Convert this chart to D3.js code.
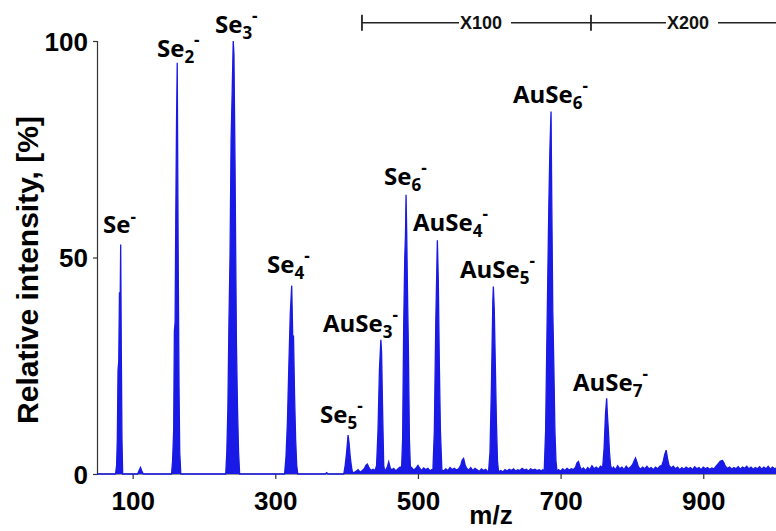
<!DOCTYPE html>
<html>
<head>
<meta charset="utf-8">
<script src="https://cdn.jsdelivr.net/npm/d3@7"></script>
<style>
  html, body { margin: 0; padding: 0; background: #fff; }
  svg { display: block; }
</style>
</head>
<body>
<svg id="chart" width="776" height="531"></svg>
<script>
// ---- Data ----
const specMz = [50,75,
  76,77.5,78.5,79.5,80.5,81.5,82.5,83.2,84,85,86,
  100,107,109,111,113,115,
  154.5,156,157.5,158.5,159.5,160.5,161.5,162.5,163.2,164,165,166,167.5,
  230.5,232,233.5,235,236.5,238,239.5,241,242,243.5,244.5,245.5,247,248.5,250,
  313,315,317,319,321,323,324.5,325.5,327,328.5,330,331.5,
  370,372,374,
  396,398,400,402,403.5,405,406.5,408,
  410,413,416,419,422,425,427,429,431,434,437,
  440,442,444,446,448,449,450.5,452,453.5,
  455,457,459,461,463,466,469,472,475,
  477,478.5,480,481.5,482.5,483.3,484.2,485.5,486.5,488,489.5,
  491,494,497,500,502,505,508,511,514,517,519,
  521,523,525,527.2,528.5,530,531.5,533.5,
  536,539,542,545,548,551,554,557,560,562,564,566,568,571,574,577,580,583,586,589,592,595,597,
  599,601,603,605,605.7,607,608.5,610,611.5,613,
  616,619,622,625,628,631,634,637,640,643,646,649,652,655,658,661,664,667,670,673,675,
  677,679,680.5,682,683.5,685,686.6,687.5,689,690.5,692,693.5,695,
  697,700,703,706,709,712,715,718,721,723,725,727,729,732,735,738,741,744,747,750,753,756,
  759,761,763,764.6,765.5,767,768.5,770,772,
  774,777,780,783,786,789,792,795,798,801,803,805,807,809,812,815,818,821,824,827,830,833,836,839,842,844,846,848,850,852,855,858,861,864,867,870,873,876,879,882,885,888,891,894,897,900,903,906,909,912,915,918,921,924,927,929,931,934,937,940,943,946,949,952,955,958,961,964,967,970,973,976,979,982,985,988,991,994,997,1000,1002];
const specInt = [0,0,
  0,2,8,24,26,42,40,53,30,8,0,
  0,0,0.8,1.5,0.6,0,
  0,3,10,33,35,60,81,95,70,45,20,5,0,
  0,5,15,35,50,77,88,100,97,72,50,30,15,5,0,
  0,4,12,25,37,43.5,31,32,18,8,2,0,
  0,0.3,0,
  0,2,5,9,7,4,2,0.5,
  0.3,0.6,1,0.4,0.8,1.3,2,2.3,1.6,0.8,1.1,
  0.8,2,10,24,31,28,14,2,0.5,
  1,1.6,2.8,1.5,0.9,1.3,0.7,1.2,1.6,
  1,8,34,50,55,64.5,56,40,30,8,1,
  1.5,0.9,1.3,2,1.5,0.8,1.4,1,1.3,0.7,1,
  1,10,35,54,45,25,10,1,
  0.7,1.2,0.8,1.5,1,1.3,0.9,1.2,2,3.2,3.6,2.2,1.4,0.9,1.5,0.8,1.3,1,0.6,1.2,0.8,1.1,0.7,
  0.5,5,20,40,43.3,38,25,12,3,0.5,
  0.8,0.5,1,0.7,1.1,0.8,1.2,0.7,1,0.8,1.3,0.9,1.1,0.7,1.2,0.9,1.1,0.8,1,0.7,1,
  0.5,10,28,45,62,75,83.7,65,38,25,10,3,0.5,
  1,0.7,1.2,0.8,1.3,0.9,1.2,1,1.6,2.6,2.9,1.8,1,1.4,0.8,1.5,1,1.9,1.2,1.6,1.1,1.8,
  1.5,6,14,17.5,14,10,5,2,1,
  1.6,1,1.9,1.2,1.6,1,1.8,1.2,1.6,2.2,3,3.7,2.8,1.7,1.1,1.6,1.2,1.8,1.2,1.5,1,1.6,1.2,1.8,2,3,4.5,5.5,3.5,2,1.4,1.8,1.2,1.6,1,1.5,1.1,1.6,1.2,1.5,1,1.7,1.2,1.5,1,1.6,1.2,1.5,1.1,1.4,1.2,1.8,2.4,3,3.1,2.6,1.8,1.3,1.6,1.1,1.5,1.2,1.7,1.1,1.6,1.3,1.8,1.2,1.6,1.1,1.5,1.2,1.7,1.1,1.6,1.2,1.8,1.1,1.6,1.2,1.4];

// Peak labels: base text, subscript, anchor position (m/z, %) of label start/baseline
const labelBase = ["Se","Se","Se","Se","AuSe","Se","Se","AuSe","AuSe","AuSe","AuSe"];
const labelSub  = ["","2","3","4","3","5","6","4","5","6","7"];
const labelMz   = [58.4,134.1,215.4,288.4,366.9,362.7,452.4,493,559,633.3,717.4];
const labelPct  = [55.7,96.3,101.8,46.4,32.8,11.8,66.7,56.1,45.3,85.7,19.2];

// Magnification ranges at top
const magStart = [421.5, 742.6];
const magEnd   = [742.6, 1002];
const magLabel = ["X100","X200"];
const magLabelMz = [588.4, 878.6];

const xTicks = [100,300,500,700,900];
const yTicks = [0,50,100];

// ---- Drawing ----
const svg = d3.select("#chart");
const x = d3.scaleLinear().domain([50,1002]).range([97,776]);
const y = d3.scaleLinear().domain([0,100]).range([474,41]);
const blue = "#1a1ae6";
const axisColor = "#333";

// axes
const yAxis = svg.append("g").attr("transform","translate(97,0)")
  .call(d3.axisLeft(y).tickValues(yTicks).tickSize(4).tickPadding(5).tickFormat(d3.format("d")));
const xAxis = svg.append("g").attr("transform","translate(0,474)")
  .call(d3.axisBottom(x).tickValues(xTicks).tickSize(5).tickPadding(13).tickFormat(d3.format("d")));
[yAxis,xAxis].forEach(g=>{
  g.select(".domain").attr("stroke",axisColor).attr("stroke-width",1.2);
  g.selectAll(".tick line").attr("stroke",axisColor).attr("stroke-width",1.2);
  g.selectAll("text").attr("fill","#000")
    .style("font-family","'Liberation Sans', Arial, sans-serif")
    .style("font-weight","bold").style("font-size","26px");
});
xAxis.select(".domain").attr("d","M97,0H776");
yAxis.selectAll(".tick text").attr("dy","0.35em");

// spectrum
const pts = specMz.map((m,i)=>[m,specInt[i]]);
const area = d3.area().x(d=>x(d[0])).y0(y(0)).y1(d=>y(d[1]));
const line = d3.line().x(d=>x(d[0])).y(d=>y(d[1]));
svg.append("path").datum(pts).attr("d",area).attr("fill",blue).attr("stroke","none");
svg.append("path").datum(pts).attr("d",line).attr("fill","none").attr("stroke",blue).attr("stroke-width",1.3);

// labels
const lf = "'Open Sans', 'Noto Sans', sans-serif";
labelBase.forEach((b,i)=>{
  const t = svg.append("text").attr("x",x(labelMz[i])).attr("y",y(labelPct[i]))
    .style("font-family",lf).style("font-weight","bold").style("font-size","24px").attr("fill","#000");
  t.append("tspan").text(b);
  if (labelSub[i]) {
    t.append("tspan").attr("dy",6).style("font-size","17px").text(labelSub[i]);
    t.append("tspan").attr("dy",-17).style("font-size","17px").text("-");
  } else {
    t.append("tspan").attr("dy",-10).style("font-size","17px").text("-");
  }
});

// magnification bracket
const yb = y(104.2);
const gm = svg.append("g");
gm.append("line").attr("x1",x(magStart[0])).attr("x2",x(magEnd[1])).attr("y1",yb).attr("y2",yb)
  .attr("stroke","#222").attr("stroke-width",1.6);
magStart.forEach(m=>{
  gm.append("line").attr("x1",x(m)).attr("x2",x(m)).attr("y1",yb-8).attr("y2",yb+8)
    .attr("stroke","#222").attr("stroke-width",1.8);
});
magLabel.forEach((l,i)=>{
  const t = gm.append("text").attr("x",x(magLabelMz[i])).attr("y",yb).attr("dy","0.36em")
    .attr("text-anchor","middle")
    .style("font-family","'Liberation Sans', Arial, sans-serif").style("font-weight","bold")
    .style("font-size","18px").attr("fill","#111").text(l);
  const bb = t.node().getBBox();
  gm.insert("rect","text").attr("x",bb.x-1).attr("y",bb.y).attr("width",bb.width+10).attr("height",bb.height).attr("fill","#fff");
});

// axis titles
svg.append("text").attr("transform","translate(38,270) rotate(-90)").attr("text-anchor","middle")
  .style("font-family","'Liberation Sans', Arial, sans-serif").style("font-weight","bold")
  .style("font-size","30px").attr("fill","#000").text("Relative intensity, [%]");
svg.append("text").attr("x",491).attr("y",524).attr("text-anchor","middle")
  .style("font-family","'Liberation Sans', Arial, sans-serif").style("font-weight","bold")
  .style("font-size","26px").attr("fill","#000").text("m/z");
</script>
</body>
</html>
